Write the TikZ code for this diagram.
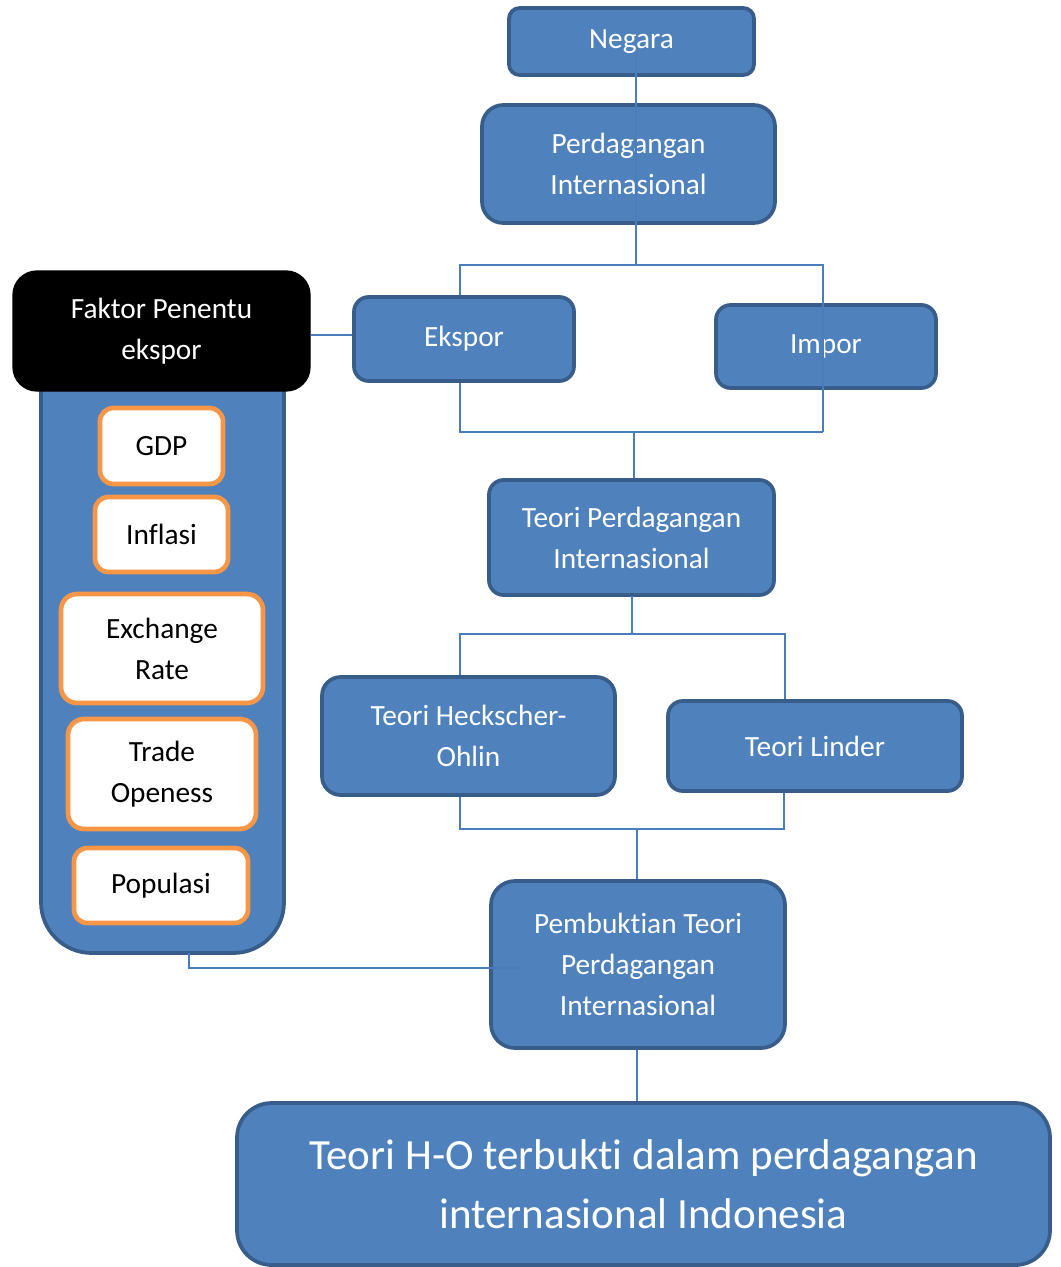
\documentclass[tikz,border=0pt]{standalone}
\usepackage{fontspec}
\setmainfont[Ligatures={NoCommon}]{Carlito}
\definecolor{fillb}{HTML}{4F81BD}
\definecolor{bdr}{HTML}{385D8A}
\definecolor{lnc}{HTML}{4A7EBB}
\definecolor{org}{HTML}{F79646}
\tikzset{
  bx/.style n args={4}{minimum width={(#3-#1)*0.75pt}, minimum height={(#4-#2)*0.75pt}, at={({(#1+#3)/2},{(#2+#4)/2})}},
  box/.style={draw=bdr, fill=fillb, line width=2.8pt, rounded corners=11pt, text=white, align=center, inner sep=0pt, font=\fontsize{22}{30.75}\selectfont},
  obox/.style={draw=org, fill=white, line width=3.5pt, rounded corners=10pt, text=black, align=center, inner sep=0pt, font=\fontsize{22}{30.75}\selectfont},
  conn/.style={draw=lnc, line width=1.4pt}
}
\begin{document}
\begin{tikzpicture}[x=0.75pt,y=-0.75pt]
\useasboundingbox (0,0) rectangle (1060,1267);
% main column
\node[box, rounded corners=8pt, bx={509}{8}{754}{75}] (negara) {Negara};
\node[box, rounded corners=16pt, bx={482}{105}{775}{223}] (perd) {Perdagangan\\Internasional};
\node[box, bx={354}{297}{574}{381}] (ekspor) {Ekspor};
\node[box, bx={716}{305}{936}{388}] (impor) {Impor};
\node[box, bx={489}{480}{774}{595}] (teori) {Teori Perdagangan\\Internasional};
\node[box, rounded corners=14pt, bx={322}{677}{615}{795}] (ho) {Teori Heckscher-\\Ohlin};
\node[box, bx={668}{701}{962}{791}] (linder) {Teori Linder};
\node[box, rounded corners=18pt, bx={491}{881}{785}{1048}] (pemb) {Pembuktian Teori\\Perdagangan\\Internasional};
\node[box, rounded corners=26pt, bx={237}{1103}{1050}{1265}, font=\fontsize{32.3}{44.25}\selectfont] (hasil) {Teori H-O terbukti dalam perdagangan\\internasional Indonesia};
% left column
\node[box, rounded corners=38pt, bx={41}{300}{284}{953}] (kolom) {};
\node[box, draw=black, fill=black, line width=1pt, rounded corners=18pt, bx={13}{271}{310}{391}] (faktor) {Faktor Penentu\\ekspor};
\node[obox, bx={100}{408}{223}{484}] (gdp) {GDP};
\node[obox, bx={95}{497}{228}{572}] (inflasi) {Inflasi};
\node[obox, rounded corners=12pt, bx={61}{594}{263}{703}] (kurs) {Exchange\\Rate};
\node[obox, rounded corners=12pt, bx={68}{719}{256}{829}] (trade) {Trade\\Openess};
\node[obox, bx={74}{848}{248}{923}] (pop) {Populasi};
% connector points
\coordinate (n1) at (636,52);
\coordinate (b1) at (636,265);
\coordinate (b1L) at (460,265);
\coordinate (b1R) at (823,265);
\coordinate (b2L) at (460,432);
\coordinate (b2R) at (823,432);
\coordinate (b2M) at (634,432);
\coordinate (t1) at (632,596);
\coordinate (b3M) at (632,634);
\coordinate (b3L) at (460,634);
\coordinate (b3R) at (785,634);
\coordinate (b4L) at (460,829);
\coordinate (b4R) at (784,829);
\coordinate (b4M) at (637,829);
\coordinate (k1) at (189,953);
\coordinate (k2) at (189,968);
\coordinate (k3) at (520,968);
% connectors
\draw[conn] (n1) -- (b1);
\draw[conn] (b1L |- ekspor.north) -- (b1L) -- (b1R) -- (b2R);
\draw[conn] (b2L |- ekspor.south) -- (b2L) -- (b2R);
\draw[conn] (b2M) -- (b2M |- teori.north);
\draw[conn] (t1) -- (b3M);
\draw[conn] (b3L |- ho.north) -- (b3L) -- (b3R) -- (b3R |- linder.north);
\draw[conn] (b4L |- ho.south) -- (b4L) -- (b4R) -- (b4R |- linder.south);
\draw[conn] (b4M) -- (b4M |- pemb.north);
\draw[conn] (pemb.south -| b4M) -- (b4M |- hasil.north);
\draw[conn] (faktor.east |- 0,335) -- (ekspor.west |- 0,335);
\draw[conn] (k1) -- (k2) -- (k3);
\end{tikzpicture}
\end{document}
